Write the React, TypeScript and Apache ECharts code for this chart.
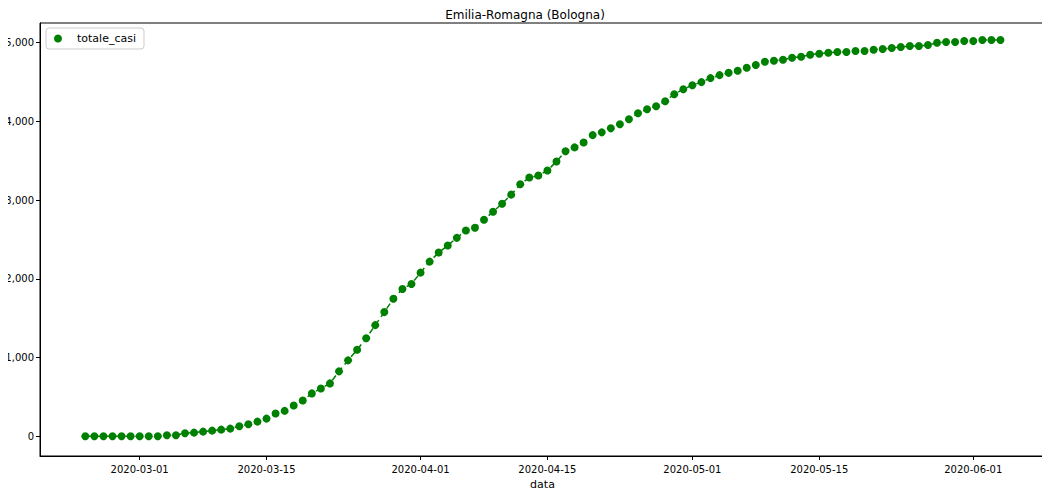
import { useEffect, useRef } from "react";
import * as echarts from "echarts";

const startDate = [2020, 1, 24];
const totaleCasi = [
    0, 0, 0, 0, 0, 0, 0, 0, 0, 13, 13, 40, 47, 60, 72, 85, 98, 128, 153, 187,
    225, 290, 323, 391, 455, 545, 608, 672, 825, 965, 1100, 1246, 1412, 1578, 1747, 1871,
    1935, 2079, 2219, 2334, 2423, 2521, 2615, 2649, 2751, 2853, 2955, 3070, 3202, 3287,
    3312, 3376, 3491, 3622, 3670, 3733, 3826, 3861, 3912, 3963, 4027, 4103, 4154, 4192,
    4256, 4345, 4409, 4460, 4499, 4550, 4588, 4617, 4643, 4681, 4716, 4758, 4770, 4783,
    4809, 4821, 4847, 4860, 4872, 4881, 4881, 4894, 4894, 4911, 4920, 4932, 4945, 4958,
    4958, 4970, 5000, 5008, 5008, 5021, 5021, 5034, 5034, 5034,
];
const xTicks = ["2020-03-01", "2020-03-15", "2020-04-01", "2020-04-15", "2020-05-01", "2020-05-15", "2020-06-01"];
const yTicks = [0, 1000, 2000, 3000, 4000, 5000];

const day = (s: string) => {
    const [y, m, d] = s.split("-").map(Number);
    return new Date(y, m - 1, d).getTime();
};
const pad = (n: number) => n.toString().padStart(2, "0");
const fmt = (t: number) => {
    const d = new Date(t);
    return `${d.getFullYear()}-${pad(d.getMonth() + 1)}-${pad(d.getDate())}`;
};

function App() {
    const ref = useRef<HTMLDivElement>(null);

    useEffect(() => {
        if (!ref.current) return;
        const chart = echarts.init(ref.current, null, { renderer: "svg" });
        const data = totaleCasi.map((v, i) => [
            new Date(startDate[0], startDate[1], startDate[2] + i).getTime(),
            v,
        ]);
        const axisLine = { show: true, onZero: false, lineStyle: { color: "#000" } };
        chart.setOption({
            animation: false,
            backgroundColor: "#fff",
            textStyle: { fontFamily: "DejaVu Sans" },
            title: {
                text: "Emilia-Romagna (Bologna)",
                left: "center",
                top: 4,
                textStyle: { fontSize: 12, fontWeight: "normal", color: "#000" },
            },
            legend: {
                left: 46,
                top: 28,
                orient: "vertical",
                padding: [5, 8],
                borderColor: "#ccc",
                borderWidth: 1,
                borderRadius: 3,
                itemWidth: 28,
                itemHeight: 8,
                textStyle: { fontSize: 11, color: "#000" },
                data: [{ name: "totale_casi", icon: "circle" }],
            },
            grid: { left: 40, right: 5, top: 23, bottom: 40, show: true, borderColor: "#000" },
            xAxis: {
                type: "value",
                min: day("2020-02-19"),
                max: day("2020-06-08") + 22 * 3600e3,
                name: "data",
                nameLocation: "middle",
                nameGap: 22,
                nameTextStyle: { fontSize: 11, color: "#000" },
                axisLine,
                splitLine: { show: false },
                axisTick: { show: true, length: 4, lineStyle: { color: "#000" }, customValues: xTicks.map(day) },
                axisLabel: {
                    customValues: xTicks.map(day),
                    formatter: (v: number) => fmt(v),
                    fontSize: 10,
                    color: "#000",
                    margin: 8,
                },
            },
            yAxis: {
                type: "value",
                min: -250,
                max: 5250,
                axisLine,
                splitLine: { show: false },
                axisTick: { show: true, length: 4, lineStyle: { color: "#000" }, customValues: yTicks },
                axisLabel: { customValues: yTicks, fontSize: 10, color: "#000", margin: 6 },
            },
            series: [
                {
                    name: "totale_casi",
                    type: "line",
                    data,
                    symbol: "circle",
                    symbolSize: 8,
                    itemStyle: { color: "#008000" },
                    lineStyle: { color: "#008000", width: 1.5, type: [6, 4] },
                },
            ],
        });
        return () => chart.dispose();
    }, []);

    return <div ref={ref} style={{ width: "1050px", height: "496px", margin: "-8px" }} />;
}

export default App;
